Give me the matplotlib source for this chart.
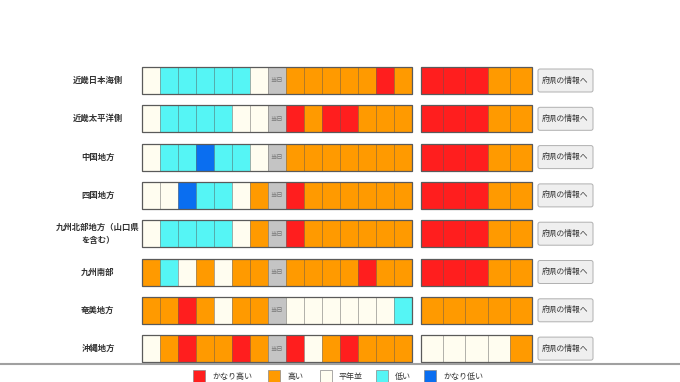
import matplotlib.pyplot as plt
from matplotlib.patches import Rectangle, FancyBboxPatch

plt.rcParams['font.family'] = ['Noto Sans CJK JP', 'DejaVu Sans']

# 0 かなり高い, 1 高い, 2 平年並, 3 低い, 4 かなり低い
levels = ['かなり高い', '高い', '平年並', '低い', 'かなり低い']
level_colors = ['#ff1e1e', '#ff9a00', '#fffdf0', '#55f5f5', '#0a6ef0']

regions = ['近畿日本海側', '近畿太平洋側', '中国地方', '四国地方',
           '九州北部地方（山口県\nを含む）', '九州南部', '奄美地方', '沖縄地方']

past = [
    [2, 3, 3, 3, 3, 3, 2],
    [2, 3, 3, 3, 3, 2, 2],
    [2, 3, 3, 4, 3, 3, 2],
    [2, 2, 4, 3, 3, 2, 1],
    [2, 3, 3, 3, 3, 2, 1],
    [1, 3, 2, 1, 2, 1, 1],
    [1, 1, 0, 1, 2, 1, 1],
    [2, 1, 0, 1, 1, 0, 1],
]
future = [
    [1, 1, 1, 1, 1, 0, 1],
    [0, 1, 0, 0, 1, 1, 1],
    [1, 1, 1, 1, 1, 1, 1],
    [0, 1, 1, 1, 1, 1, 1],
    [0, 1, 1, 1, 1, 1, 1],
    [1, 1, 1, 1, 0, 1, 1],
    [2, 2, 2, 2, 2, 2, 3],
    [0, 2, 1, 0, 1, 1, 1],
]
weekly = [
    [0, 0, 0, 1, 1],
    [0, 0, 0, 1, 1],
    [0, 0, 0, 1, 1],
    [0, 0, 0, 1, 1],
    [0, 0, 0, 1, 1],
    [0, 0, 0, 1, 1],
    [1, 1, 1, 1, 1],
    [2, 2, 2, 2, 1],
]
today_label = '当日'
button_label = '府県の情報へ'

# layout in pixels
W, H = 680, 382
x0, cw = 142, 18.0
x1, cw2 = 421, 22.2
y0, dy, ch = 67, 38.3, 27
bx, bw, bh = 538, 55, 23

fig = plt.figure(figsize=(W / 100, H / 100), dpi=100)
ax = fig.add_axes([0, 0, 1, 1])
ax.set_xlim(0, W)
ax.set_ylim(H, 0)
ax.axis('off')

edge = (0, 0, 0, 0.25)
for r, name in enumerate(regions):
    top = y0 + r * dy
    ax.text(98, top + ch / 2, name, ha='center', va='center', fontsize=6.0,
            fontweight='bold', color='#333333', linespacing=1.6,
            multialignment='center')
    cells = past[r] + [None] + future[r]
    for i, lv in enumerate(cells):
        x = x0 + i * cw
        if lv is None:
            ax.add_patch(Rectangle((x, top), cw, ch, facecolor='#c4c4c4',
                                   edgecolor=edge, lw=0.6))
            ax.text(x + cw / 2, top + ch / 2, today_label, ha='center',
                    va='center', fontsize=4.5, color='#777777')
        else:
            ax.add_patch(Rectangle((x, top), cw, ch, facecolor=level_colors[lv],
                                   edgecolor=edge, lw=0.6))
    ax.add_patch(Rectangle((x0, top), cw * len(cells), ch, fill=False,
                           edgecolor='#5a5a5a', lw=0.9))
    for i, lv in enumerate(weekly[r]):
        ax.add_patch(Rectangle((x1 + i * cw2, top), cw2, ch,
                               facecolor=level_colors[lv], edgecolor=edge, lw=0.6))
    ax.add_patch(Rectangle((x1, top), cw2 * len(weekly[r]), ch, fill=False,
                           edgecolor='#5a5a5a', lw=0.9))
    btop = top + (ch - bh) / 2
    ax.add_patch(FancyBboxPatch((bx, btop), bw, bh,
                                boxstyle='round,pad=0,rounding_size=2',
                                facecolor='#efefef', edgecolor='#b0b0b0', lw=0.7))
    ax.text(bx + bw / 2, btop + bh / 2, button_label, ha='center', va='center',
            fontsize=5.6, color='#333333')

ax.plot([0, W], [364, 364], color='#a0a0a0', lw=1.5)

legend_x = [193, 268, 320, 376, 424]
for lx, lab, col in zip(legend_x, levels, level_colors):
    ax.add_patch(Rectangle((lx, 370), 12, 13, facecolor=col,
                           edgecolor='#888888', lw=0.5))
    ax.text(lx + 19, 376.5, lab, ha='left', va='center', fontsize=5.8,
            color='#333333')

fig.savefig('out.png', dpi=100)
